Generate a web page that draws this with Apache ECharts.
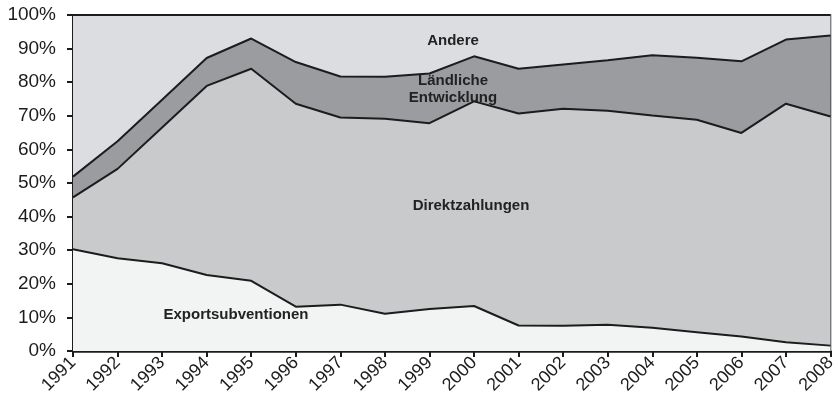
<!DOCTYPE html>
<html>
<head>
<meta charset="utf-8">
<script src="https://cdn.jsdelivr.net/npm/echarts@6/dist/echarts.min.js"></script>
<style>
  html, body { margin: 0; padding: 0; background: #fff; }
  #chart { width: 839px; height: 409px; }
</style>
</head>
<body>
<div id="chart"></div>
<script>
const years = ['1991', '1992', '1993', '1994', '1995', '1996', '1997', '1998', '1999',
  '2000', '2001', '2002', '2003', '2004', '2005', '2006', '2007', '2008']

// shares in percent
const exportsubventionen = [30.3, 27.6, 26.1, 22.6, 20.9, 13.2, 13.8, 11.1, 12.5,
  13.4, 7.6, 7.5, 7.8, 6.9, 5.6, 4.3, 2.6, 1.6]
const direktzahlungen = [15.4, 26.6, 40.4, 56.3, 63.1, 60.4, 55.7, 58.0, 55.3,
  60.9, 63.1, 64.6, 63.7, 63.2, 63.2, 60.6, 71.0, 68.2]
const laendliche = [6.2, 8.2, 8.3, 8.3, 9.0, 12.4, 12.2, 12.5, 14.8,
  13.4, 13.3, 13.2, 15.0, 17.9, 18.5, 21.3, 19.1, 24.1]
const andere = [48.1, 37.6, 25.2, 12.8, 7.0, 14.0, 18.3, 18.4, 17.4,
  12.3, 16.0, 14.7, 13.5, 12.0, 12.7, 13.8, 7.3, 6.1]

const yTicks = [0, 100, 10] // min, max, interval

const FONT = 'Liberation Sans'

const chart = echarts.init(document.getElementById('chart'))

const lineStyle = { color: '#1c1c1c', width: 2 }

function layer (name, data, fill) {
  return {
    name: name,
    type: 'line',
    stack: 'total',
    data: data,
    symbol: 'none',
    silent: true,
    lineStyle: lineStyle,
    areaStyle: { color: fill, opacity: 1 }
  }
}

function areaLabel (text, x, y) {
  return {
    type: 'text',
    x: x,
    y: y,
    z: 100,
    style: {
      text: text,
      fontFamily: FONT,
      fontSize: 15,
      fontWeight: 'bold',
      lineHeight: 17,
      fill: '#222',
      align: 'center',
      verticalAlign: 'middle'
    }
  }
}

const option = {
  animation: false,
  backgroundColor: '#fff',
  grid: {
    left: 73,
    right: 7,
    top: 15,
    bottom: 58,
    show: true,
    borderColor: '#2a2a2a',
    borderWidth: 1.5
  },
  xAxis: {
    type: 'category',
    data: years,
    boundaryGap: false,
    axisLine: { lineStyle: { color: '#1c1c1c', width: 2.5 } },
    axisTick: { length: 6, lineStyle: { color: '#1c1c1c', width: 2 } },
    axisLabel: {
      rotate: 45,
      margin: 9,
      fontFamily: FONT,
      fontSize: 18,
      color: '#1c1c1c',
      interval: 0
    },
    splitLine: { show: false }
  },
  yAxis: {
    type: 'value',
    min: yTicks[0],
    max: yTicks[1],
    interval: yTicks[2],
    axisLine: { show: true, lineStyle: { color: '#1c1c1c', width: 2 } },
    axisTick: { show: true, length: 6, lineStyle: { color: '#1c1c1c', width: 2 } },
    axisLabel: {
      formatter: '{value}%',
      margin: 17,
      fontFamily: FONT,
      fontSize: 19,
      color: '#1c1c1c'
    },
    splitLine: { show: false }
  },
  series: [
    layer('Exportsubventionen', exportsubventionen, '#f2f3f3'),
    layer('Direktzahlungen', direktzahlungen, '#c9cacc'),
    layer('Ländliche Entwicklung', laendliche, '#9b9ca0'),
    layer('Andere', andere, '#dcdde0')
  ],
  graphic: [
    areaLabel('Andere', 453, 41),
    areaLabel('Ländliche\nEntwicklung', 453, 89),
    areaLabel('Direktzahlungen', 471, 206),
    areaLabel('Exportsubventionen', 236, 315)
  ]
}

chart.setOption(option)

window.addEventListener('resize', () => {
  chart.resize()
})
</script>
</body>
</html>
